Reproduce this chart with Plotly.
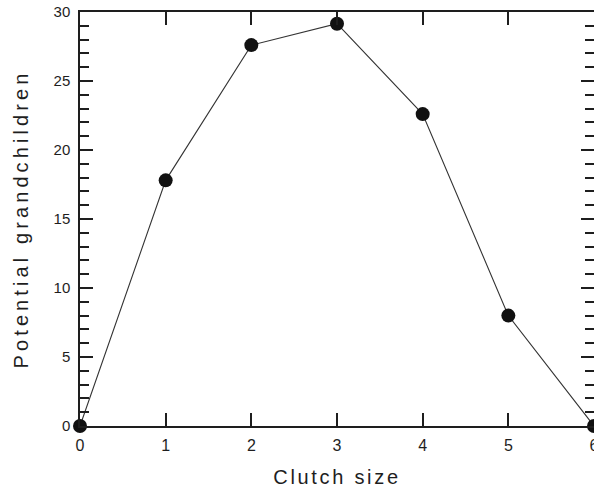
import plotly.graph_objects as go

clutch_size = [0, 1, 2, 3, 4, 5, 6]
grandchildren = [0, 17.8, 27.6, 29.15, 22.6, 8.0, 0]

x_ticks = [0, 1, 2, 3, 4, 5, 6]
y_ticks = [0, 5, 10, 15, 20, 25, 30]

x_title = "Clutch size"
y_title = "Potential grandchildren"

FONT = "Liberation Sans, Arial, sans-serif"
INK = "#1e1e1e"

fig = go.Figure()
fig.add_trace(go.Scatter(
    x=clutch_size, y=grandchildren, mode="lines+markers",
    line=dict(color="#333333", width=1.1),
    marker=dict(color="#111111", size=14),
    cliponaxis=False, showlegend=False, hoverinfo="skip",
))
# invisible trace to carry the mirrored (top/right) axes
fig.add_trace(go.Scatter(
    x=clutch_size, y=grandchildren, mode="lines", xaxis="x2", yaxis="y2",
    line=dict(width=0), opacity=0, showlegend=False, hoverinfo="skip",
))

common_x = dict(range=[0, 6], tickvals=x_ticks, ticks="inside", ticklen=13,
                tickwidth=1.5, tickcolor=INK, showgrid=False, zeroline=False,
                automargin=False)
common_y = dict(range=[0, 30], tickvals=y_ticks, ticks="inside", ticklen=13,
                tickwidth=1.5, tickcolor=INK, showgrid=False, zeroline=False,
                automargin=False,
                minor=dict(dtick=1, ticks="inside", ticklen=9, tickwidth=1.5,
                           tickcolor=INK, showgrid=False))

fig.update_layout(
    width=594, height=491,
    margin=dict(l=80, r=0, t=12, b=65),
    paper_bgcolor="white", plot_bgcolor="white",
    font=dict(family=FONT, color=INK),
    xaxis=dict(**common_x, showline=True, linecolor=INK, linewidth=1.5,
               ticklabelstandoff=4, ticklabeloverflow="allow",
               tickfont=dict(size=16, family=FONT, color=INK),
               title=dict(text=x_title, font=dict(size=20, family=FONT, color=INK), standoff=17)),
    yaxis=dict(**common_y, showline=True, linecolor=INK, linewidth=1.5,
               ticklabelstandoff=5,
               tickfont=dict(size=15, family=FONT, color=INK),
               title=dict(text=y_title, font=dict(size=20, family=FONT, color=INK), standoff=20)),
    xaxis2=dict(**common_x, overlaying="x", side="top", anchor="y", showline=True,
                linecolor=INK, linewidth=1.5, showticklabels=False),
    yaxis2=dict(**common_y, overlaying="y", side="right", anchor="x", showline=False,
                showticklabels=False),
)

post = """
document.documentElement.style.margin='0';
document.body.style.margin='0';
document.body.style.overflow='hidden';
function sp(){
  document.querySelectorAll('.xtitle').forEach(function(e){e.style.letterSpacing='2.7px';});
  document.querySelectorAll('.ytitle').forEach(function(e){e.style.letterSpacing='4.1px';});
}
sp();
var gd=document.getElementsByClassName('plotly-graph-div')[0];
if(gd && gd.on){gd.on('plotly_afterplot', sp);}
"""
fig.write_html("out.html", post_script=post, config={"displayModeBar": False})
